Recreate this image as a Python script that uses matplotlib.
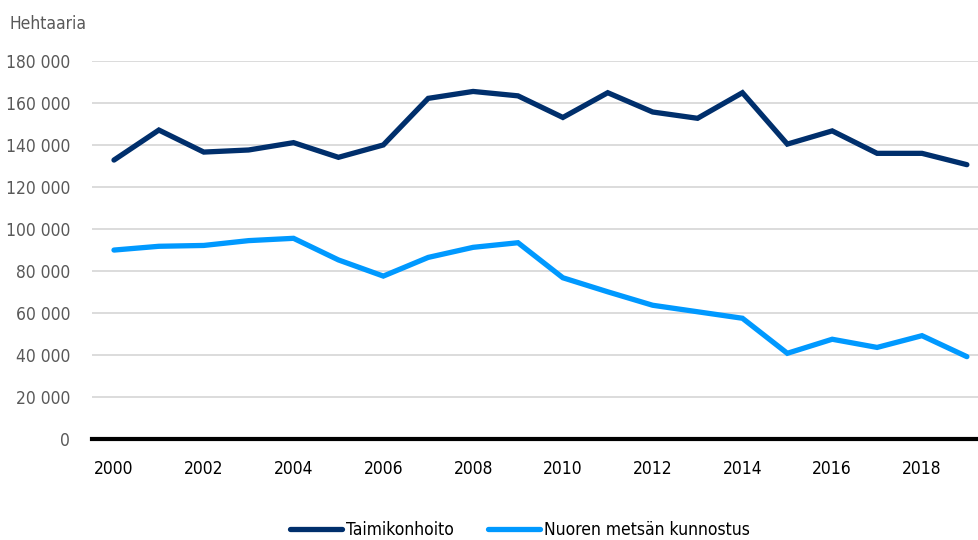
import matplotlib
matplotlib.use("Agg")
import matplotlib.pyplot as plt
from matplotlib.ticker import FuncFormatter

plt.rcParams['font.family'] = ['DejaVu Sans']
plt.rcParams['font.stretch'] = 'condensed'

YEARS = list(range(2000, 2020))
TAIMIKONHOITO = [132800, 147100, 136600, 137600, 141100, 134100, 140000, 162200,
                 165500, 163400, 153100, 164900, 155700, 152700, 164900, 140400,
                 146700, 136000, 136000, 130600]
NUOREN_METSAN = [89900, 91700, 92100, 94400, 95500, 85200, 77500, 86400,
                 91200, 93400, 76700, 70000, 63600, 60500, 57400, 40700,
                 47400, 43500, 49100, 39100]
SERIES_NAMES = ["Taimikonhoito", "Nuoren metsän kunnostus"]
X_TICKS = list(range(2000, 2019, 2))
Y_TICKS = list(range(0, 180001, 20000))

DARK = "#002f6c"
LIGHT = "#0099ff"
GRAY = "#595959"

fig = plt.figure(figsize=(9.79, 5.4), dpi=100)
ax = fig.add_axes([0.0935, 0.1876, 1 - 0.0935, 0.887 - 0.1876])

ax.plot(YEARS, TAIMIKONHOITO, color=DARK, lw=3.8, label=SERIES_NAMES[0],
        solid_capstyle="round", solid_joinstyle="miter")
ax.plot(YEARS, NUOREN_METSAN, color=LIGHT, lw=3.8, label=SERIES_NAMES[1],
        solid_capstyle="round", solid_joinstyle="miter")

ax.set_xlim(1999.5, 2019.27)
ax.set_ylim(0, 180000)
ax.set_yticks(Y_TICKS)
ax.set_xticks(X_TICKS)
ax.yaxis.set_major_formatter(FuncFormatter(lambda v, p: f"{int(v):,}".replace(",", " ")))

ax.grid(axis="y", color="#d9d9d9", lw=1.3)
ax.set_axisbelow(True)
for s in ["top", "right", "left"]:
    ax.spines[s].set_visible(False)
ax.spines["bottom"].set_color("black")
ax.spines["bottom"].set_linewidth(3)
ax.spines["bottom"].set_zorder(1)

# pads are in points, ~22 px gap in the reference
ax.tick_params(axis="y", length=0, pad=15.5, labelsize=12.5, labelcolor=GRAY)
ax.tick_params(axis="x", length=0, pad=15.5, labelsize=12.5, labelcolor="black")

fig.text(0.010, 0.955, "Hehtaaria", fontsize=12.5, color=GRAY, va="center", ha="left")

fig.legend(loc="center", bbox_to_anchor=(0.531, 0.018), ncol=2, frameon=False,
           fontsize=12.5, handlelength=3.0, handletextpad=0.2, columnspacing=2.0)

fig.savefig("out.png", dpi=100)
